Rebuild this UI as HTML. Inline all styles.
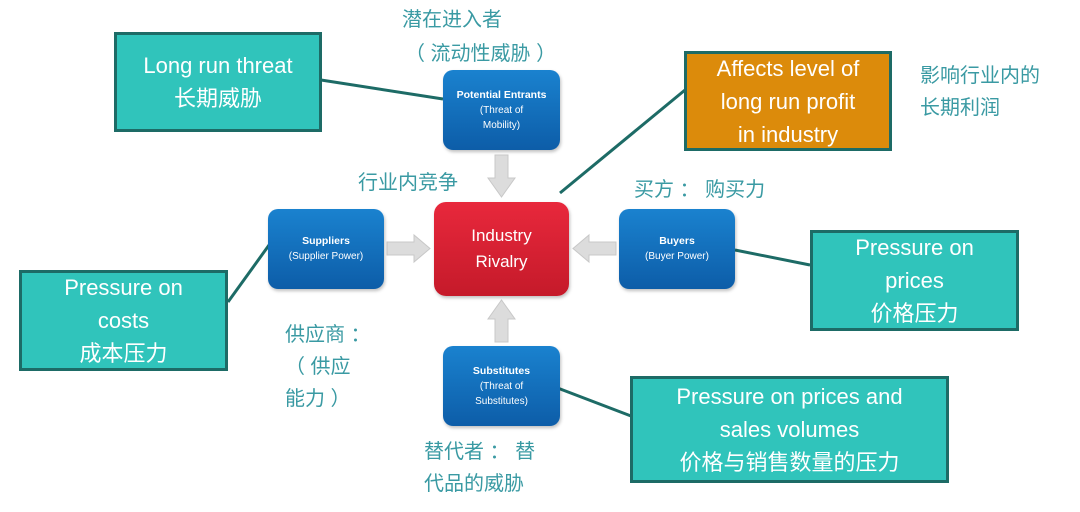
<!DOCTYPE html>
<html><head><meta charset="utf-8"><style>
body{margin:0;width:1080px;height:512px;background:#fff;position:relative;overflow:hidden;font-family:"Liberation Sans","Noto Sans CJK SC",sans-serif}
.b{position:absolute;box-sizing:border-box;border:3px solid #1d6b66;background:#30c4bb;color:#fff;font-size:22px;line-height:33px;text-align:center;display:flex;flex-direction:column;justify-content:center}
.o{background:#dc8b0b}
.n{position:absolute;box-sizing:border-box;border-radius:10px;background:linear-gradient(#1a82cf,#0d5da8);color:#fff;text-align:center;font-size:10px;line-height:15px;display:flex;flex-direction:column;justify-content:center;box-shadow:1px 2px 3px rgba(0,0,0,.25)}
.n b{font-size:10.5px}
.r{background:linear-gradient(#e8283c,#c51a2a);font-size:17px;line-height:26px;border-radius:12px}
.t{position:absolute;color:#3a9aa3;font-size:20px;line-height:32px;white-space:pre}
svg{position:absolute;left:0;top:0}
</style></head><body>
<svg width="1080" height="512">
<g stroke="#1d6b66" stroke-width="3">
<line x1="321" y1="80" x2="443" y2="99"/>
<line x1="560" y1="193" x2="685" y2="90"/>
<line x1="735" y1="250" x2="810" y2="265"/>
<line x1="277" y1="234" x2="228" y2="302"/>
<line x1="555" y1="387" x2="631" y2="416"/>
</g>
<g fill="#dcdcdc" stroke="#c8c8c8" stroke-width="1">
<polygon points="495,155 508,155 508,178 515,178 501.5,197 488,178 495,178"/>
<polygon points="495,342 508,342 508,319 515,319 501.5,300 488,319 495,319"/>
<polygon points="387,242 414,242 414,235 430,248.5 414,262 414,255 387,255"/>
<polygon points="616,242 589,242 589,235 573,248.5 589,262 589,255 616,255"/>
</g>
</svg>
<div class="b" style="left:114px;top:32px;width:208px;height:100px">Long run threat<br>长期威胁</div>
<div class="b" style="left:19px;top:270px;width:209px;height:101px">Pressure on<br>costs<br>成本压力</div>
<div class="b o" style="left:684px;top:51px;width:208px;height:100px">Affects level of<br>long run profit<br>in industry</div>
<div class="b" style="left:810px;top:230px;width:209px;height:101px">Pressure on<br>prices<br>价格压力</div>
<div class="b" style="left:630px;top:376px;width:319px;height:107px">Pressure on prices and<br>sales volumes<br>价格与销售数量的压力</div>
<div class="n" style="left:443px;top:70px;width:117px;height:80px"><b>Potential Entrants</b>(Threat of<br>Mobility)</div>
<div class="n" style="left:268px;top:209px;width:116px;height:80px"><b>Suppliers</b>(Supplier Power)</div>
<div class="n" style="left:619px;top:209px;width:116px;height:80px"><b>Buyers</b>(Buyer Power)</div>
<div class="n" style="left:443px;top:346px;width:117px;height:80px"><b>Substitutes</b>(Threat of<br>Substitutes)</div>
<div class="n r" style="left:434px;top:202px;width:135px;height:94px">Industry<br>Rivalry</div>
<div class="t" style="left:402px;top:4px">潜在进入者</div>
<div class="t" style="left:405px;top:38px">（ 流动性威胁 ）</div>
<div class="t" style="left:358px;top:167px">行业内竞争</div>
<div class="t" style="left:634px;top:174px">买方 ： 购买力</div>
<div class="t" style="left:920px;top:60px">影响行业内的
长期利润</div>
<div class="t" style="left:285px;top:319px">供应商 ：
（ 供应
能力 ）</div>
<div class="t" style="left:424px;top:436px">替代者 ： 替
代品的威胁</div>
</body></html>
